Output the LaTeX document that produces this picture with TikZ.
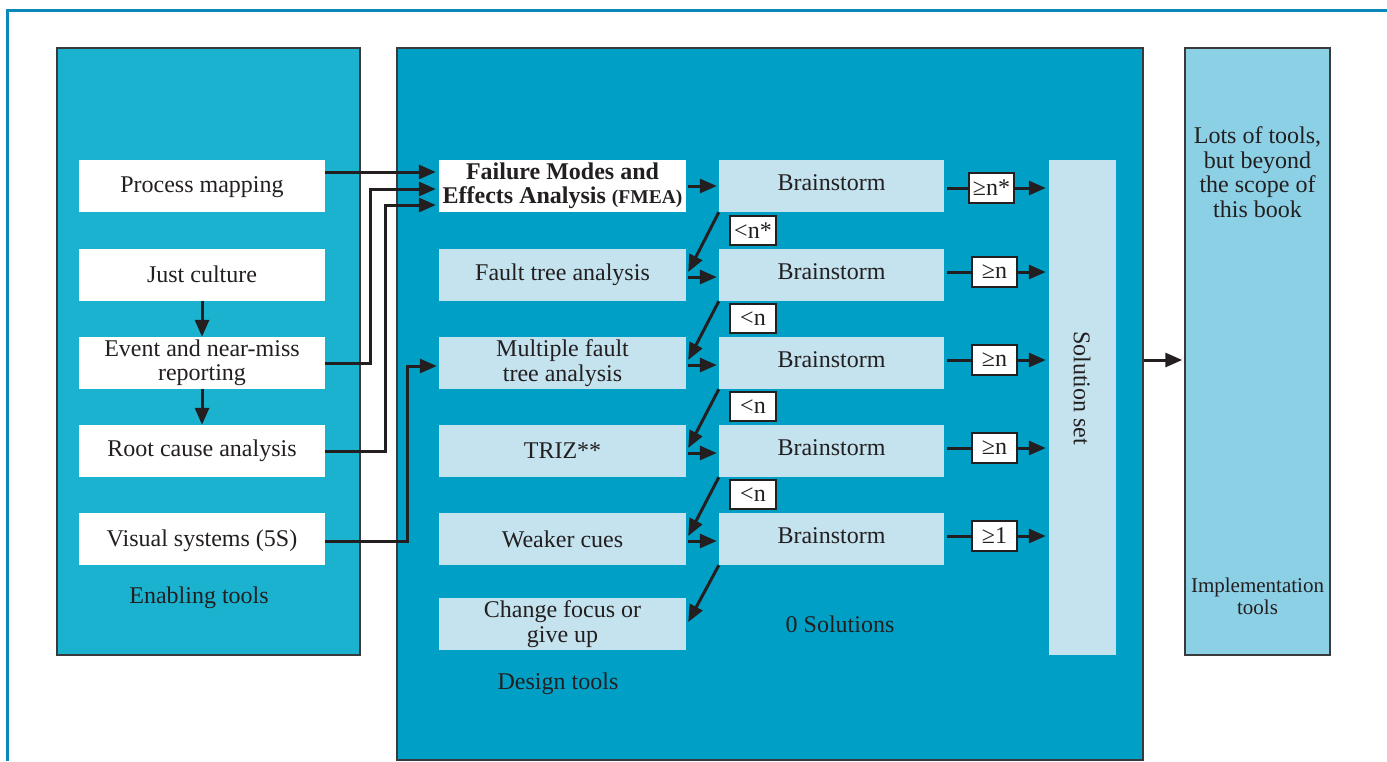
\documentclass[tikz,border=0pt]{standalone}
\usepackage{fontspec}
\setmainfont{Liberation Serif}
\usetikzlibrary{arrows.meta,calc}

\definecolor{enab}{HTML}{1BB2D0}
\definecolor{desg}{HTML}{00A0C6}
\definecolor{pale}{HTML}{C4E3EE}
\definecolor{impl}{HTML}{8CD0E6}
\definecolor{frameblue}{HTML}{0A88BA}
\definecolor{ink}{HTML}{231F20}
\definecolor{edge}{HTML}{3A3A3C}

\newcommand\bodyfont{\fontsize{24}{24.5}\selectfont}
\newcommand\smallbody{\fontsize{21}{22}\selectfont}

\tikzset{
  panel/.style={draw=edge, line width=1.5pt, inner sep=0pt},
  toolbox/.style={minimum height=52pt, inner sep=0pt, align=center,
                  font=\bodyfont, text=ink},
  enabbox/.style={toolbox, fill=white, minimum width=246pt},
  desgbox/.style={toolbox, fill=pale, minimum width=247pt},
  brain/.style={toolbox, fill=pale, minimum width=225pt,
                text height=16pt, text depth=8pt},
  tag/.style={draw=ink, line width=1.2pt, fill=white, minimum width=45pt,
              minimum height=29pt, inner sep=0pt, font=\bodyfont, text=ink},
  caption/.style={font=\bodyfont, text=ink, align=center, inner sep=0pt},
  arr/.style={draw=ink, line width=3pt,
              -{Triangle[length=17pt,width=14pt]}},
  link/.style={draw=ink, line width=3pt},
}

\begin{document}
\begin{tikzpicture}[x=1pt,y=-1pt]
\useasboundingbox (0,0) rectangle (1387,761);

% outer frame
\draw[frameblue, line width=3pt] (7,761) -- (7,10) -- (1387,10);

% panels
\node[panel, fill=enab, minimum width=303pt, minimum height=607pt] (enabling) at (208.5,351.5) {};
\node[panel, fill=desg, minimum width=746pt, minimum height=712pt] (design) at (770,404) {};
\node[panel, fill=impl, minimum width=145pt, minimum height=607pt] (implementation) at (1257.5,351.5) {};

% enabling tools
\node[enabbox, text depth=2pt] (pm) at (202,186) {Process mapping};
\node[enabbox] (jc) at (202,274.5) {Just culture};
\node[enabbox] (ev) at (202,363) {Event and near-miss\\reporting};
\node[enabbox] (rc) at (202,451) {Root cause analysis};
\node[enabbox, text depth=2pt] (vs) at (202,539) {Visual systems (5S)};
\node[caption] (enablabel) at (199,598) {Enabling tools};

% design tools
\node[toolbox, fill=white, minimum width=247pt, font=\bfseries\bodyfont] (fmea) at (562.5,186)
  {Failure Modes and\\Effects Analysis {\fontsize{19.5}{20}\selectfont(FMEA)}};
\node[desgbox] (ft) at (562.5,275) {Fault tree analysis};
\node[desgbox] (mf) at (562.5,363) {Multiple fault\\tree analysis};
\node[desgbox] (triz) at (562.5,451) {TRIZ**};
\node[desgbox] (wc) at (562.5,539) {Weaker cues};
\node[desgbox] (cf) at (562.5,624) {Change focus or\\give up};
\node[caption] (desglabel) at (558,684) {Design tools};

% brainstorm column
\node[brain] (b1) at (831.5,186) {Brainstorm};
\node[brain] (b2) at (831.5,275) {Brainstorm};
\node[brain] (b3) at (831.5,363) {Brainstorm};
\node[brain] (b4) at (831.5,451) {Brainstorm};
\node[brain] (b5) at (831.5,539) {Brainstorm};
\node[caption] (zero) at (840,624) {0 Solutions};

% fall-through tags
\node[tag, minimum width=46pt] (l1) at (753,230.5) {<n*};
\node[tag, minimum width=46pt] (l2) at (753,318.5) {<n};
\node[tag, minimum width=46pt] (l3) at (753,406.5) {<n};
\node[tag, minimum width=46pt] (l4) at (753,494.5) {<n};

% success tags
\node[tag, minimum height=30pt] (g1) at (991.5,188) {≥n*};
\node[tag, minimum height=30pt] (g2) at (994.5,272) {≥n};
\node[tag, minimum height=30pt] (g3) at (994.5,360) {≥n};
\node[tag, minimum height=30pt] (g4) at (994.5,448) {≥n};
\node[tag, minimum height=30pt] (g5) at (994.5,536) {≥1};

% solution set
\node[fill=pale, minimum width=67pt, minimum height=495pt, inner sep=0pt] (sol) at (1082.5,407.5) {};
\node[caption, rotate=-90] (sollabel) at (1082,388) {Solution set};

% implementation tools
\node[caption] (beyond) at (1257.5,172) {Lots of tools,\\but beyond\\the scope of\\this book};
\node[caption, font=\smallbody] (impllabel) at (1257.5,596) {Implementation\\tools};

% enabling flow
\draw[arr] (jc.south) -- (ev.north);
\draw[arr] (ev.south) -- (rc.north);

% enabling tools feeding design tools
\draw[arr, shorten >=3pt] ([yshift=14pt]pm.east) -- ([yshift=14pt]fmea.west);
\draw[arr, shorten >=3pt] (ev.east) -- ++(45,0) |- ([yshift=-3pt]fmea.west);
\draw[arr, shorten >=3pt] (rc.east) -- ++(60,0) |- ([yshift=-19pt]fmea.west);
\draw[arr, shorten >=2pt] ([yshift=-2pt]vs.east) -- ++(82,0) |- ([yshift=-3pt]mf.west);

% design tools into brainstorms
\draw[arr, shorten <=2pt, shorten >=2pt] (fmea.east) -- (b1.west);
\draw[arr, shorten <=2pt, shorten >=2pt] ([yshift=-2pt]ft.east) -- ([yshift=-2pt]b2.west);
\draw[arr, shorten <=2pt, shorten >=2pt] ([yshift=-2pt]mf.east) -- ([yshift=-2pt]b3.west);
\draw[arr, shorten <=2pt, shorten >=2pt] ([yshift=-2pt]triz.east) -- ([yshift=-2pt]b4.west);
\draw[arr, shorten <=2pt, shorten >=2pt] ([yshift=-2pt]wc.east) -- ([yshift=-2pt]b5.west);

% too few solutions: fall through to the next tool
\draw[arr] (b1.south west) -- ([xshift=2pt,yshift=3pt]ft.east);
\draw[arr] (b2.south west) -- ([xshift=2pt,yshift=3pt]mf.east);
\draw[arr] (b3.south west) -- ([xshift=2pt,yshift=3pt]triz.east);
\draw[arr] (b4.south west) -- ([xshift=2pt,yshift=3pt]wc.east);
\draw[arr] (b5.south west) -- ([xshift=2pt,yshift=2pt]cf.east);

% enough solutions: into the solution set
\foreach \b/\g in {b1/g1,b2/g2,b3/g3,b4/g4,b5/g5}{
  \draw[link, shorten <=3pt] (\b.east |- \g) -- (\g.west);
  \draw[arr, shorten >=3pt] (\g.east) -- (sol.west |- \g);
}

% solution set to implementation
\draw[arr, shorten >=2pt] ([yshift=3pt]design.east |- b3) -- ([yshift=3pt]implementation.west |- b3);
\end{tikzpicture}
\end{document}
